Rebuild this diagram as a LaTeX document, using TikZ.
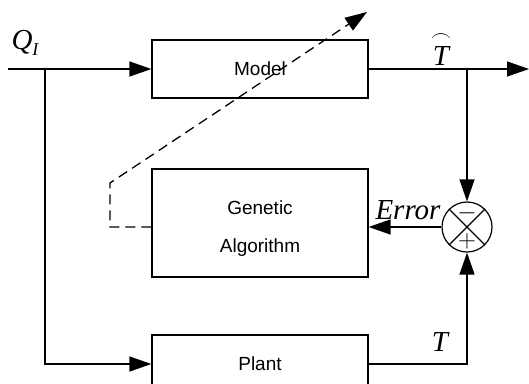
\documentclass[tikz,border=0pt]{standalone}
\usepackage{amsmath}
\usepackage{fontspec}
\setsansfont{Liberation Sans}
\newfontfamily\labelfont{Liberation Serif}
\usetikzlibrary{arrows.meta}
\usetikzlibrary{positioning}
\usetikzlibrary{calc}

\begin{document}
\begin{tikzpicture}[x=1pt, y=-1pt,
    block/.style={draw, line width=1.2pt, minimum width=216pt, inner sep=0pt,
        font=\sffamily\fontsize{19}{38}\selectfont, align=center},
    sig/.style={line width=1.3pt, -{Triangle[length=22pt,width=15pt]}},
    tuning/.style={sig, dash pattern=on 10pt off 6pt},
    lbl/.style={font=\labelfont\itshape\fontsize{29}{30}\selectfont, inner sep=0pt},
    sign/.style={font=\fontsize{24}{24}\selectfont, inner sep=0pt}]

    \useasboundingbox (0,0) rectangle (529,383);

    % blocks
    \node[block, minimum height=58pt] (model) at (260,69) {Model};
    \node[block, minimum height=108pt, text height=62pt] (ga) at (260,223) {Genetic\\Algorithm};
    \node[block, minimum height=58pt] (plant) at (260,364) {Plant};
    \node[draw, circle, line width=1.2pt, minimum size=50pt, inner sep=0pt] (sum) at (467,227) {};
    \draw[line width=1.2pt] (sum.north west) -- (sum.south east);
    \draw[line width=1.2pt] (sum.north east) -- (sum.south west);
    \node[sign] (minus) at ($(sum.center)+(0,-14)$) {$-$};
    \node[sign] (plus) at ($(sum.center)+(0,14)$) {$+$};

    \coordinate (qin) at (8,69);
    \coordinate (split) at (45,69);
    \coordinate (out) at (529,69);
    \coordinate (tap) at (467,69);
    \coordinate (bend) at (110,183);
    \coordinate (tune) at (367,12);

    % signals
    \draw[sig] (qin) -- (model.west);
    \draw[sig] (split) |- (plant.west);
    \draw[sig] (model.east) -- (out);
    \draw[sig] (tap) -- (sum.north);
    \draw[sig] (plant.east) -| (sum.south);
    \draw[sig] (sum.west) -- (ga.east |- sum.west);
    \draw[tuning] (ga.west |- sum.west) -| (bend) -- (tune);

    % labels
    \node[lbl] (qlabel) at (25,43) {Q\raisebox{-6pt}{\fontsize{18}{18}\selectfont I}};
    \node[lbl] (tmodel) at (441,49) {$\overset{\frown}{\text{\labelfont\itshape T}}$};
    \node[lbl] (error) at (408,210) {Error};
    \node[lbl] (tplant) at (440,342) {T};

\end{tikzpicture}
\end{document}
